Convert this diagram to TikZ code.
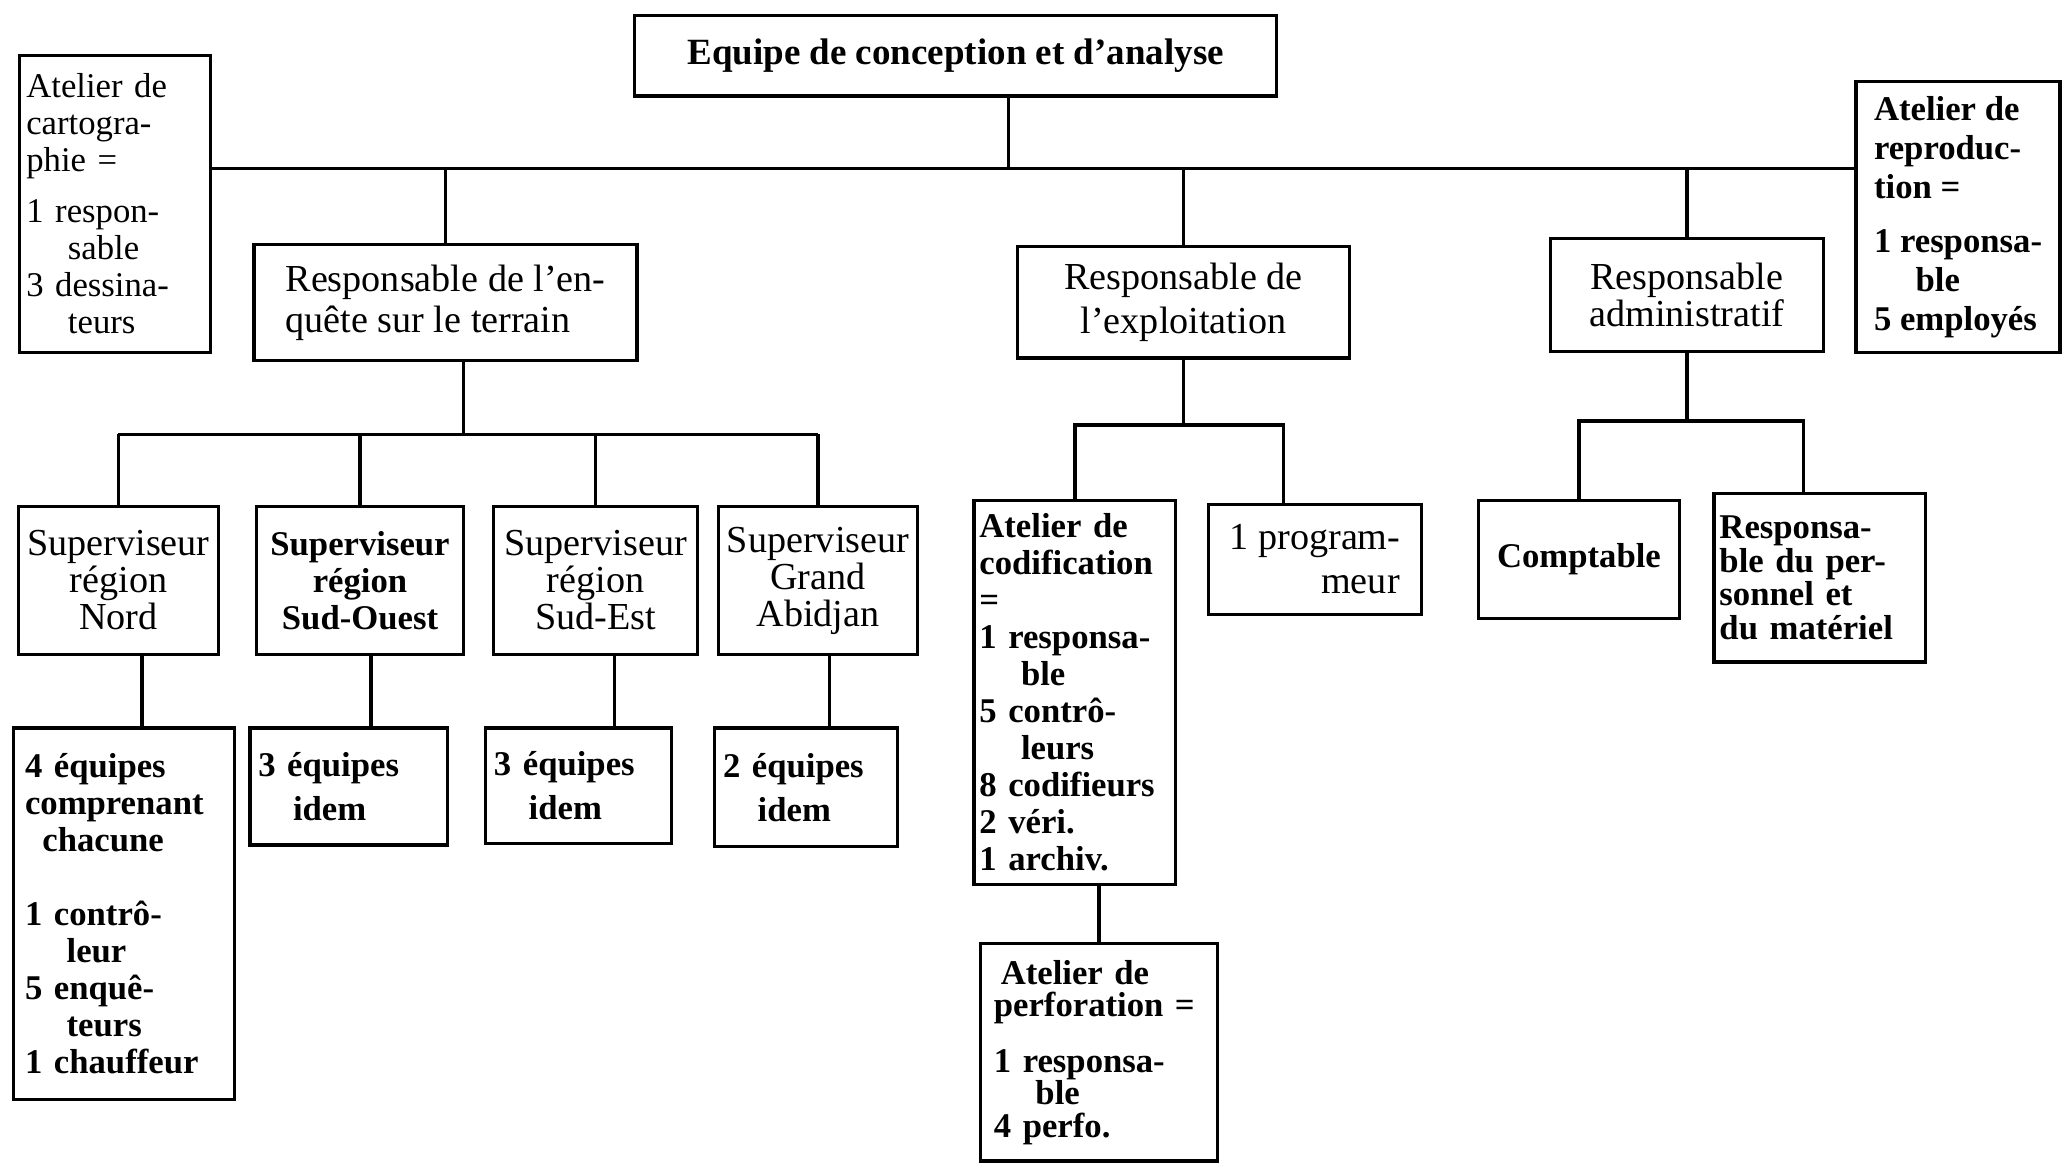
\documentclass[tikz,border=0pt]{standalone}
\usepackage{fontspec}
\setmainfont{Liberation Serif}

\begin{document}
\begin{tikzpicture}[
    x=0.02cm, y=-0.02cm,
    area/.style n args={4}{at={({(#1+#3)/2},{(#2+#4)/2})}, minimum width={(#3-#1)*0.02cm}, minimum height={(#4-#2)*0.02cm}},
    box/.style={rectangle, draw, line width=1.4pt, inner sep=2pt, align=center, font=\fontsize{16.5}{16}\selectfont},
    boldbox/.style={box, font=\fontsize{15}{16}\selectfont\bfseries},
    link/.style={line width=1.5pt}
]
\useasboundingbox (0,0) rectangle (1568,884);

% Top level
\node[boldbox, area={482}{12}{970}{73}, font=\fontsize{16}{18}\selectfont\bfseries] (top) {Equipe de conception et d'analyse};
\node[box, area={15}{42}{160}{268}, align=left, text width=2.7cm, font=\fontsize{15}{16}\selectfont] (carto) {Atelier de\\cartogra-\\phie =\\[6pt]1 respon-\\\hspace*{1.2em}sable\\3 dessina-\\\hspace*{1.2em}teurs};
\node[boldbox, area={1410}{62}{1565}{268}, align=left, font=\fontsize{15}{17}\selectfont\bfseries] (repro) {Atelier de\\reproduc-\\tion =\\[6pt]1 responsa-\\\hspace*{1.2em}ble\\5 employés};

% Second level
\node[box, area={193}{186}{484}{274}, align=left] (enq) {Responsable de l'en-\\[2pt]quête sur le terrain};
\node[box, area={773}{187}{1025}{272}] (expl) {Responsable de\\[3pt]l'exploitation};
\node[box, area={1178}{181}{1385}{267}] (admin) {Responsable\\administratif};

% Supervisors
\node[box, area={14}{385}{166}{497}] (supN) {Superviseur\\région\\Nord};
\node[boldbox, area={195}{385}{352}{497}] (supSO) {Superviseur\\région\\Sud-Ouest};
\node[box, area={375}{385}{530}{497}] (supSE) {Superviseur\\région\\Sud-Est};
\node[box, area={546}{385}{697}{497}] (supGA) {Superviseur\\Grand\\Abidjan};

% Teams
\node[boldbox, area={10}{553}{178}{835}, align=left, text width=3cm] (teamN) {4 équipes\\comprenant\\\hspace*{0.5em}chacune\\[16pt]1 contrô-\\\hspace*{1.2em}leur\\5 enquê-\\\hspace*{1.2em}teurs\\1 chauffeur};
\node[boldbox, area={190}{553}{340}{642}, align=left, text width=2.75cm] (teamSO) {3 équipes\\[3pt]\hspace*{1em}idem};
\node[boldbox, area={369}{553}{510}{641}, align=left, text width=2.57cm] (teamSE) {3 équipes\\[3pt]\hspace*{1em}idem};
\node[boldbox, area={543}{553}{682}{643}, align=left, text width=2.53cm] (teamGA) {2 équipes\\[3pt]\hspace*{1em}idem};

% Exploitation
\node[boldbox, area={740}{380}{893}{672}, align=left, text width=2.9cm] (codif) {Atelier de\\codification\\=\\1 responsa-\\\hspace*{1.2em}ble\\5 contrô-\\\hspace*{1.2em}leurs\\8 codifieurs\\2 véri.\\1 archiv.};
\node[box, area={918}{383}{1080}{467}, align=left] (prog) {1 program-\\[3pt]\hspace*{2.4em}meur};
\node[boldbox, area={745}{717}{925}{882}, align=left, text width=3.2cm, font=\fontsize{15}{14}\selectfont\bfseries] (perfo) {\hspace*{0.2em}Atelier de\\perforation =\\[10pt]1 responsa-\\\hspace*{1.2em}ble\\4 perfo.};

% Administration
\node[boldbox, area={1123}{380}{1276}{470}] (compt) {Comptable};
\node[boldbox, area={1302}{375}{1463}{503}, align=left, text width=3.05cm, font=\fontsize{15}{14.5}\selectfont\bfseries] (pers) {Responsa-\\ble du per-\\sonnel et\\du matériel\\[6pt]};

% Connections
\coordinate (bus) at (766,128);
\draw[link] (top.south -| bus) -- (bus);
\draw[link] (carto.east |- bus) -- (repro.west |- bus);
\foreach \n in {enq,expl,admin}
  \draw[link] (\n.north) -- (\n.north |- bus);

\coordinate (enqbus) at (352,330);
\draw[link] (enq.south -| enqbus) -- (enqbus);
\draw[link] (supN.north |- enqbus) -- (supGA.north |- enqbus);
\foreach \n in {supN,supSO,supSE,supGA}
  \draw[link] (\n.north) -- (\n.north |- enqbus);
\foreach \n/\x in {N/108,SO/282,SE/467,GA/630} {
  \coordinate (drop\n) at (\x,525);
  \draw[link] (sup\n.south -| drop\n) -- (team\n.north -| drop\n);
}

\coordinate (explbus) at (975,323);
\draw[link] (expl.south) -- (expl.south |- explbus);
\draw[link] (codif.north) |- (explbus) -- (explbus |- prog.north);
\draw[link] (codif.south -| perfo.north) -- (perfo.north);

\coordinate (adminbus) at (1370,320);
\draw[link] (admin.south) -- (admin.south |- adminbus);
\draw[link] (compt.north) |- (adminbus) -- (adminbus |- pers.north);

\end{tikzpicture}
\end{document}
